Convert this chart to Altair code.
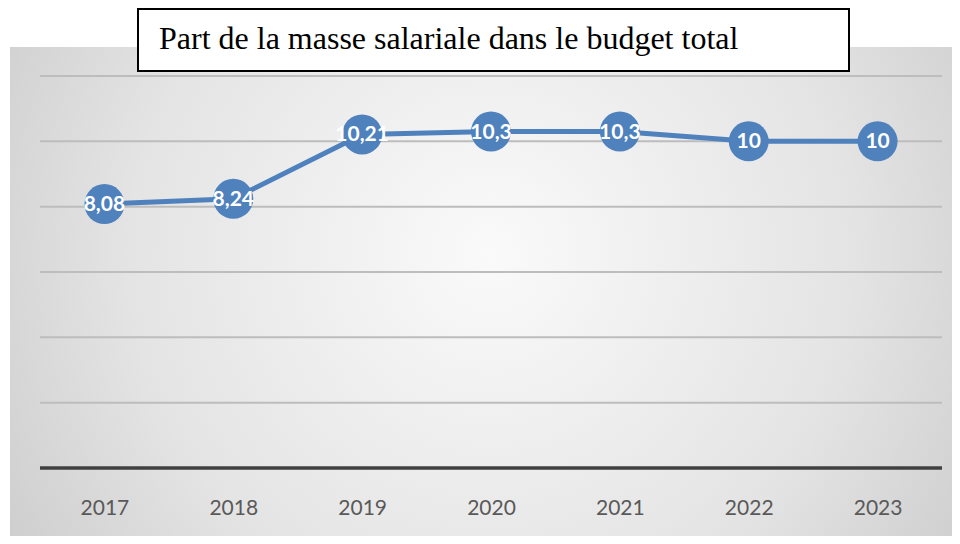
import altair as alt
import pandas as pd

years = ["2017", "2018", "2019", "2020", "2021", "2022", "2023"]
values = [8.08, 8.24, 10.21, 10.3, 10.3, 10, 10]
labels = ["8,08", "8,24", "10,21", "10,3", "10,3", "10", "10"]
grid_levels = [2, 4, 6, 8, 10, 12]
title_text = "Part de la masse salariale dans le budget total"

df = pd.DataFrame({"year": years, "value": values, "label": labels})
grid_df = pd.DataFrame({"level": grid_levels})

W, H = 902, 392
BLUE = "#4F81BD"

yscale = alt.Scale(domain=[0, 12], nice=False, zero=True)
x_enc = alt.X(
    "year:N",
    sort=years,
    scale=alt.Scale(type="point", padding=0.5),
    axis=alt.Axis(
        title=None, labelAngle=0, ticks=False, domain=False, grid=False,
        labelFont="Lato", labelFontSize=21, labelColor="#595959", labelPadding=29,
        zindex=2,
    ),
)
y_enc = alt.Y("value:Q", scale=yscale, axis=None)

bg = alt.Chart(alt.Data(values=[{}])).mark_rect(
    fill=alt.Gradient(
        gradient="radial",
        x1=0.5, y1=0.45, r1=0, x2=0.5, y2=0.45, r2=0.75,
        stops=[
            alt.GradientStop(color="#fafafa", offset=0),
            alt.GradientStop(color="#e4e4e4", offset=0.5),
            alt.GradientStop(color="#bdbdbd", offset=1),
        ],
    )
).encode(x=alt.value(-30), x2=alt.value(930), y=alt.value(-29), y2=alt.value(480))

grid = alt.Chart(grid_df).mark_rule(color="#bdbdbd", strokeWidth=2).encode(
    y=alt.Y("level:Q", scale=yscale, axis=None)
)

base = alt.Chart(alt.Data(values=[{"level": 0}])).mark_rule(
    color="#404040", strokeWidth=3.5
).encode(y=alt.Y("level:Q", scale=yscale, axis=None))

line = alt.Chart(df).mark_line(color=BLUE, strokeWidth=5).encode(x=x_enc, y=y_enc)
pts = alt.Chart(df).mark_point(
    filled=True, shape="circle", size=1600, color=BLUE, opacity=1
).encode(x=x_enc, y=y_enc)
txt = alt.Chart(df).mark_text(
    color="white", font="Lato", fontWeight="bold", fontSize=21, baseline="middle", dy=1
).encode(x=x_enc, y=y_enc, text="label:N")

tbox = alt.Chart(alt.Data(values=[{}])).mark_rect(
    fill="white", stroke="black", strokeWidth=2
).encode(x=alt.value(98), x2=alt.value(809), y=alt.value(-67), y2=alt.value(-5))
ttxt = alt.Chart(alt.Data(values=[{}])).mark_text(
    align="left", baseline="middle", font="Liberation Serif", fontSize=32, color="black"
).encode(x=alt.value(119), y=alt.value(-37), text=alt.value(title_text))

chart = alt.layer(bg, grid, base, line, pts, txt, tbox, ttxt).properties(
    width=W,
    height=H,
    autosize=alt.AutoSizeParams(type="none"),
    padding={"left": 32, "top": 68, "right": 10, "bottom": 68},
).configure_view(stroke=None)

chart.save("out.html", embed_options={"renderer": "svg", "actions": False})
